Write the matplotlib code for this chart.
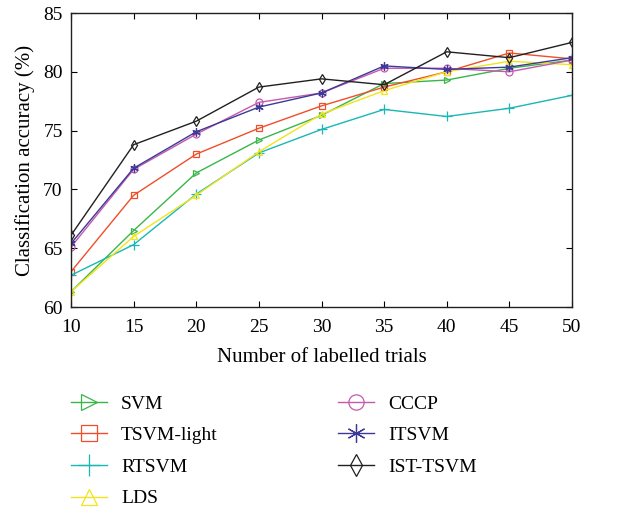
import matplotlib
matplotlib.use("Agg")
import matplotlib.pyplot as plt

plt.rcParams['font.family'] = ['Liberation Serif', 'DejaVu Serif']

trials = [10, 15, 20, 25, 30, 35, 40, 45, 50]
svm = [61.3, 66.5, 71.4, 74.2, 76.3, 79.0, 79.3, 80.3, 81.0]
tsvm_light = [63.0, 69.5, 73.0, 75.2, 77.1, 78.7, 80.0, 81.6, 81.1]
rtsvm = [62.7, 65.3, 69.6, 73.1, 75.1, 76.8, 76.2, 76.9, 78.0]
lds = [61.3, 66.0, 69.5, 73.2, 76.4, 78.4, 80.0, 80.9, 80.6]
cccp = [65.1, 71.7, 74.7, 77.4, 78.2, 80.3, 80.3, 80.0, 81.0]
itsvm = [65.4, 71.8, 74.9, 77.0, 78.2, 80.5, 80.2, 80.4, 81.2]
ist_tsvm = [66.1, 73.8, 75.8, 78.7, 79.4, 78.9, 81.7, 81.2, 82.5]

series = [
    ("SVM", svm, "#3ab54a", ">"),
    ("TSVM-light", tsvm_light, "#f04e2a", "s"),
    ("RTSVM", rtsvm, "#19b7b5", "+"),
    ("LDS", lds, "#f2e41c", "^"),
    ("CCCP", cccp, "#c659ab", "o"),
    ("ITSVM", itsvm, "#3c3a98", "*"),
    ("IST-TSVM", ist_tsvm, "#231f20", "d"),
]

FS = 14

fig = plt.figure(figsize=(6.17, 5.13), dpi=100)
ax = fig.add_axes([71/617, 1-307/513, (572-71)/617, (307-13)/513])

for name, vals, col, mk in series:
    if mk == "*":
        ax.plot(trials, vals, color=col, marker=(6, 2, 0), markersize=6, lw=1.0, label=name,
                markeredgewidth=0.9)
    else:
        ax.plot(trials, vals, color=col, marker=mk, markersize=5 if mk != "+" else 7,
                markerfacecolor='none', markeredgecolor=col, lw=1.0, label=name,
                markeredgewidth=0.9)

ax.set_xlim(10, 50)
ax.set_ylim(60, 85)
ax.set_xticks(trials)
ax.set_yticks([60, 65, 70, 75, 80, 85])
ax.tick_params(direction='in', top=True, right=True, labelsize=FS, length=4, width=0.8, pad=6)
ax.tick_params(axis='x', pad=9)
for s in ax.spines.values():
    s.set_linewidth(1.0)
    s.set_color('#231f20')
ax.set_xlabel("Number of labelled trials", fontsize=15, labelpad=8)
ax.set_ylabel("Classification accuracy (%)", fontsize=15, labelpad=6)

leg = fig.legend(loc='upper left', bbox_to_anchor=(71/617, 1-395/513), ncol=2, frameon=False,
                 fontsize=FS, markerscale=2.2, handlelength=1.85, handletextpad=0.72,
                 columnspacing=6.2, labelspacing=0.72, borderpad=0, borderaxespad=0)

fig.savefig("out.png", dpi=100)
